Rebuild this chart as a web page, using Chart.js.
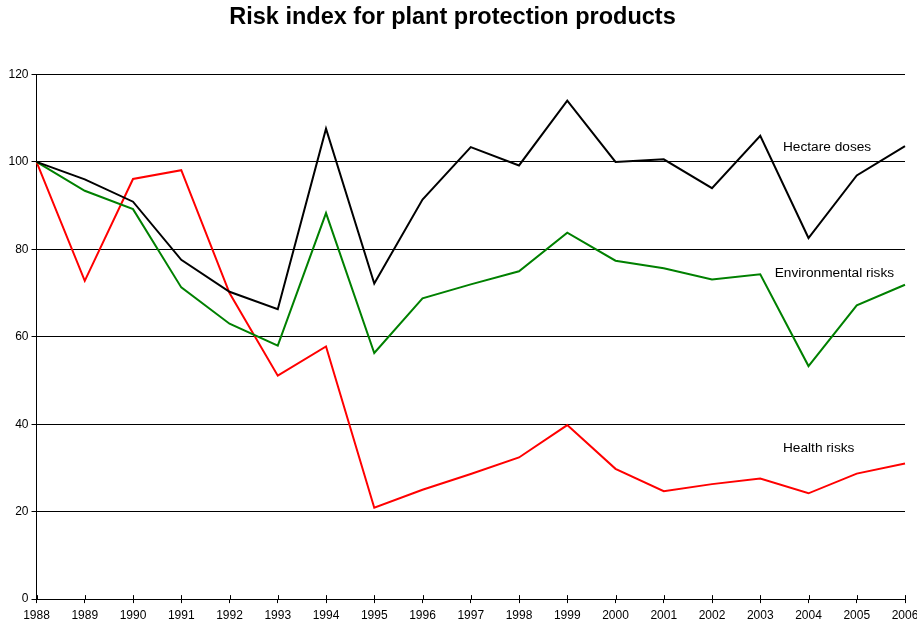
<!DOCTYPE html>
<html>
<head>
<meta charset="utf-8">
<script src="https://cdn.jsdelivr.net/npm/chart.js@4/dist/chart.umd.min.js"></script>
<style>
  html, body { margin: 0; padding: 0; background: #fff; }
  #wrap { width: 917px; height: 620px; }
</style>
</head>
<body>
<div id="wrap"><canvas id="risk"></canvas></div>
<script>
const years = ['1988', '1989', '1990', '1991', '1992', '1993', '1994', '1995', '1996', '1997',
  '1998', '1999', '2000', '2001', '2002', '2003', '2004', '2005', '2006'];
const hectareDoses = [100, 96.0, 90.9, 77.6, 70.3, 66.3, 107.6, 72.2, 91.4, 103.4,
  99.2, 114.0, 100.0, 100.6, 94.0, 106.0, 82.6, 96.9, 103.6];
const environmentalRisks = [100, 93.4, 89.2, 71.3, 63.0, 58.0, 88.3, 56.3, 68.8, 72.0,
  75.0, 83.8, 77.4, 75.7, 73.1, 74.3, 53.3, 67.2, 71.9];
const healthRisks = [100, 72.8, 96.1, 98.1, 70.0, 51.1, 57.8, 20.9, 25.0, 28.6,
  32.4, 39.8, 29.8, 24.7, 26.3, 27.6, 24.2, 28.7, 31.0];
const yTicks = [0, 20, 40, 60, 80, 100, 120];

const FONT = "'Liberation Sans', Arial, sans-serif";
Chart.defaults.color = '#000';
Chart.defaults.font.family = FONT;

// heading sits a little left of the canvas centre, so it is drawn by hand
const heading = {
  id: 'heading',
  afterDraw(chart, args, opts) {
    const { ctx, width } = chart;
    ctx.save();
    ctx.font = opts.font;
    ctx.fillStyle = '#000';
    ctx.textAlign = 'center';
    ctx.textBaseline = 'middle';
    ctx.fillText(opts.text, width / 2 + opts.dx, opts.y);
    ctx.restore();
  },
};

// writes each series name next to its line, positioned in data units
const seriesLabels = {
  id: 'seriesLabels',
  afterDatasetsDraw(chart, args, opts) {
    const { ctx, scales: { x, y } } = chart;
    ctx.save();
    ctx.font = opts.font;
    ctx.fillStyle = '#000';
    ctx.textAlign = 'left';
    ctx.textBaseline = 'middle';
    chart.data.datasets.forEach((ds, i) => {
      const at = opts.anchors[i];
      if (!at) return;
      ctx.fillText(ds.label, x.getPixelForValue(at.x), y.getPixelForValue(at.y));
    });
    ctx.restore();
  },
};

// x tick marks cross the axis: add the short stub above it
const crossTicks = {
  id: 'crossTicks',
  afterDraw(chart) {
    const { ctx, scales: { x } } = chart;
    ctx.save();
    ctx.strokeStyle = '#000';
    ctx.lineWidth = 1;
    ctx.beginPath();
    x.ticks.forEach((t, i) => {
      const px = Math.round(x.getPixelForTick(i)) + 0.5;
      ctx.moveTo(px, x.top - 4);
      ctx.lineTo(px, x.top);
    });
    ctx.stroke();
    ctx.restore();
  },
};

new Chart(document.getElementById('risk'), {
  type: 'line',
  data: {
    labels: years,
    datasets: [
      { label: 'Hectare doses', data: hectareDoses, borderColor: '#000000' },
      { label: 'Environmental risks', data: environmentalRisks, borderColor: '#008000' },
      { label: 'Health risks', data: healthRisks, borderColor: '#ff0000' },
    ],
  },
  options: {
    responsive: true,
    maintainAspectRatio: false,
    animation: false,
    layout: { padding: { left: 5.5, right: 12, top: 74.5, bottom: -7.5 } },
    elements: {
      line: { borderWidth: 2, tension: 0 },
      point: { radius: 0 },
    },
    plugins: {
      legend: { display: false },
      tooltip: { enabled: false },
      title: { display: false },
      heading: {
        text: 'Risk index for plant protection products',
        font: "bold 23.5px " + FONT,
        dx: -6,
        y: 17.5,
      },
      seriesLabels: {
        font: "13.7px " + FONT,
        anchors: [
          { x: 15.47, y: 103.3 },
          { x: 15.30, y: 74.6 },
          { x: 15.47, y: 34.5 },
        ],
      },
    },
    scales: {
      x: {
        offset: false,
        // let the last year label run off the edge instead of shrinking the plot
        afterFit: (scale) => { scale.paddingRight = 0; },
        border: { color: '#000', width: 1 },
        grid: { drawOnChartArea: false, drawTicks: true, tickLength: 4, color: '#000' },
        ticks: { font: { size: 12 }, padding: 5, maxRotation: 0, autoSkip: false, color: '#000' },
      },
      y: {
        min: 0,
        max: 120,
        afterBuildTicks: (scale) => { scale.ticks = yTicks.map((v) => ({ value: v })); },
        border: { color: '#000', width: 1 },
        grid: { color: '#000', lineWidth: 1, tickLength: 5 },
        ticks: { font: { size: 12 }, padding: 3, color: '#000' },
      },
    },
  },
  plugins: [heading, seriesLabels, crossTicks],
});
</script>
</body>
</html>
